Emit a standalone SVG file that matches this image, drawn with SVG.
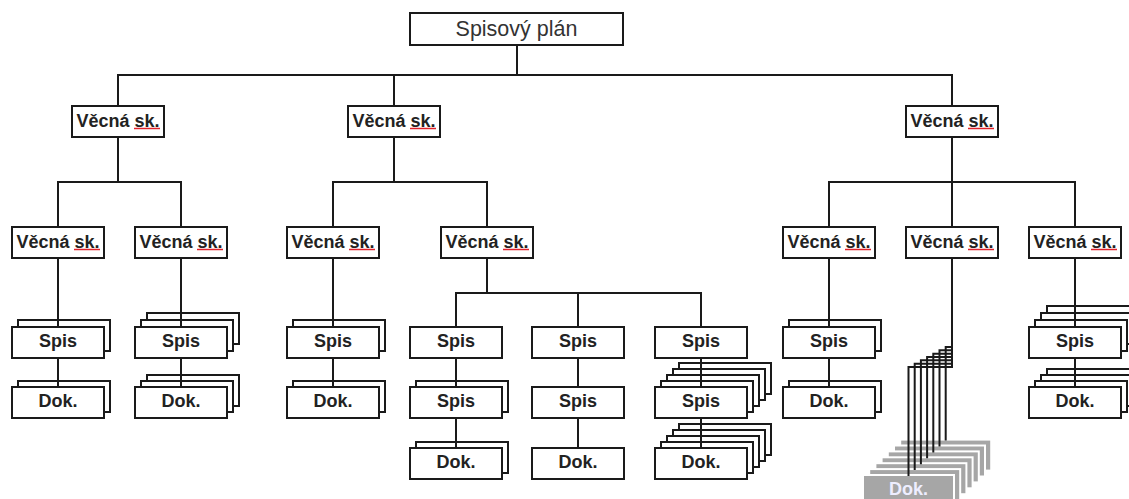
<svg xmlns="http://www.w3.org/2000/svg" width="1129" height="499" viewBox="0 0 1129 499">
<style>
.b{fill:#fff;stroke:#1a1a1a;stroke-width:2}
.g{fill:#a6a6a6;stroke:#fff;stroke-width:2}
.t{font-family:"Liberation Sans",Arial,sans-serif;font-size:18px;font-weight:bold;fill:#222;text-anchor:middle}
.tt{font-family:"Liberation Sans",Arial,sans-serif;font-size:21.5px;fill:#333;text-anchor:middle}
.tg{font-family:"Liberation Sans",Arial,sans-serif;font-size:18px;font-weight:bold;fill:#eeeeff;text-anchor:middle}
.u{stroke:#e0202a;stroke-width:1.5;fill:none}
.c{fill:none;stroke:#1a1a1a;stroke-width:2;stroke-linecap:square}
</style>
<rect width="1129" height="499" fill="#fff"/>

<g id="plan"><rect class="b" x="410" y="13" width="213" height="32"/><text class="tt" x="516.5" y="36">Spisový plán</text></g>

<g id="vs1"><rect class="b" x="72" y="106" width="92" height="31"/><text class="t" x="118" y="127">Věcná sk.</text><path class="u" d="M134 128.5h26"/></g>
<g id="vs2"><rect class="b" x="348" y="106" width="92" height="31"/><text class="t" x="394" y="127">Věcná sk.</text><path class="u" d="M410 128.5h26"/></g>
<g id="vs3"><rect class="b" x="906" y="106" width="92" height="31"/><text class="t" x="952" y="127">Věcná sk.</text><path class="u" d="M968 128.5h26"/></g>

<g id="vs11"><rect class="b" x="12" y="227" width="92" height="31"/><text class="t" x="58" y="248">Věcná sk.</text><path class="u" d="M74 249.5h26"/></g>
<g id="vs12"><rect class="b" x="135" y="227" width="92" height="31"/><text class="t" x="181" y="248">Věcná sk.</text><path class="u" d="M197 249.5h26"/></g>
<g id="vs21"><rect class="b" x="287" y="227" width="92" height="31"/><text class="t" x="333" y="248">Věcná sk.</text><path class="u" d="M349 249.5h26"/></g>
<g id="vs22"><rect class="b" x="441" y="227" width="92" height="31"/><text class="t" x="487" y="248">Věcná sk.</text><path class="u" d="M503 249.5h26"/></g>
<g id="vs31"><rect class="b" x="783" y="227" width="92" height="31"/><text class="t" x="829" y="248">Věcná sk.</text><path class="u" d="M845 249.5h26"/></g>
<g id="vs32"><rect class="b" x="906" y="227" width="92" height="31"/><text class="t" x="952" y="248">Věcná sk.</text><path class="u" d="M968 249.5h26"/></g>
<g id="vs33"><rect class="b" x="1029" y="227" width="92" height="31"/><text class="t" x="1075" y="248">Věcná sk.</text><path class="u" d="M1091 249.5h26"/></g>

<g id="spis11"><rect class="b" x="18" y="320" width="92" height="31"/><rect class="b" x="12" y="327" width="92" height="31"/><text class="t" x="58" y="347">Spis</text></g>
<g id="dok11"><rect class="b" x="18" y="381" width="92" height="31"/><rect class="b" x="12" y="387" width="92" height="31"/><text class="t" x="58" y="407">Dok.</text></g>

<g id="spis12"><rect class="b" x="147" y="313" width="92" height="31"/><rect class="b" x="141" y="320" width="92" height="31"/><rect class="b" x="135" y="327" width="92" height="31"/><text class="t" x="181" y="347">Spis</text></g>
<g id="dok12"><rect class="b" x="147" y="375" width="92" height="31"/><rect class="b" x="141" y="381" width="92" height="31"/><rect class="b" x="135" y="387" width="92" height="31"/><text class="t" x="181" y="407">Dok.</text></g>

<g id="spis21"><rect class="b" x="293" y="320" width="92" height="31"/><rect class="b" x="287" y="327" width="92" height="31"/><text class="t" x="333" y="347">Spis</text></g>
<g id="dok21"><rect class="b" x="293" y="381" width="92" height="31"/><rect class="b" x="287" y="387" width="92" height="31"/><text class="t" x="333" y="407">Dok.</text></g>

<g id="spis221"><rect class="b" x="410" y="327" width="92" height="31"/><text class="t" x="456" y="347">Spis</text></g>
<g id="spis222"><rect class="b" x="416" y="381" width="92" height="31"/><rect class="b" x="410" y="387" width="92" height="31"/><text class="t" x="456" y="407">Spis</text></g>
<g id="dok22a"><rect class="b" x="416" y="442" width="92" height="31"/><rect class="b" x="410" y="448" width="92" height="31"/><text class="t" x="456" y="468">Dok.</text></g>

<g id="spis223"><rect class="b" x="532" y="327" width="92" height="31"/><text class="t" x="578" y="347">Spis</text></g>
<g id="spis224"><rect class="b" x="532" y="387" width="92" height="31"/><text class="t" x="578" y="407">Spis</text></g>
<g id="dok22b"><rect class="b" x="532" y="448" width="92" height="31"/><text class="t" x="578" y="468">Dok.</text></g>

<g id="spis225"><rect class="b" x="655" y="327" width="92" height="31"/><text class="t" x="701" y="347">Spis</text></g>
<g id="spis226"><rect class="b" x="679" y="363" width="92" height="31"/><rect class="b" x="673" y="369" width="92" height="31"/><rect class="b" x="667" y="375" width="92" height="31"/><rect class="b" x="661" y="381" width="92" height="31"/><rect class="b" x="655" y="387" width="92" height="31"/><text class="t" x="701" y="407">Spis</text></g>
<g id="dok22c"><rect class="b" x="679" y="424" width="92" height="31"/><rect class="b" x="673" y="430" width="92" height="31"/><rect class="b" x="667" y="436" width="92" height="31"/><rect class="b" x="661" y="442" width="92" height="31"/><rect class="b" x="655" y="448" width="92" height="31"/><text class="t" x="701" y="468">Dok.</text></g>

<g id="spis31"><rect class="b" x="789" y="320" width="92" height="31"/><rect class="b" x="783" y="327" width="92" height="31"/><text class="t" x="829" y="347">Spis</text></g>
<g id="dok31"><rect class="b" x="789" y="381" width="92" height="31"/><rect class="b" x="783" y="387" width="92" height="31"/><text class="t" x="829" y="407">Dok.</text></g>

<g id="dok32">
<rect class="g" x="900.2" y="439.6" width="91" height="31"/>
<rect class="g" x="894" y="445.5" width="91" height="31"/>
<rect class="g" x="887.8" y="451.4" width="91" height="31"/>
<rect class="g" x="881.6" y="457.3" width="91" height="31"/>
<rect class="g" x="875.4" y="463.2" width="91" height="31"/>
<rect class="g" x="869.2" y="469.1" width="91" height="31"/>
<rect class="g" x="863" y="475" width="91" height="31"/>
<text class="tg" x="908.5" y="495">Dok.</text>
</g>

<g id="spis33"><rect class="b" x="1047" y="306" width="92" height="31"/><rect class="b" x="1041" y="313" width="92" height="31"/><rect class="b" x="1035" y="320" width="92" height="31"/><rect class="b" x="1029" y="327" width="92" height="31"/><text class="t" x="1075" y="347">Spis</text></g>
<g id="dok33"><rect class="b" x="1047" y="369" width="92" height="31"/><rect class="b" x="1041" y="375" width="92" height="31"/><rect class="b" x="1035" y="381" width="92" height="31"/><rect class="b" x="1029" y="387" width="92" height="31"/><text class="t" x="1075" y="407">Dok.</text></g>

<g id="connectors" class="c">
<path d="M517 45V75M118 75H952M118 75V106M394 75V106M952 75V106"/>
<path d="M118 137V182M58 182H181M58 182V227M181 182V227"/>
<path d="M394 137V182M333 182H487M333 182V227M487 182V227"/>
<path d="M952 137V227M829 182H1075M829 182V227M1075 182V227"/>
<path d="M58 258V327M58 358V387M181 258V327M181 358V387M333 258V327M333 358V387"/>
<path d="M487 258V293M456 293H701M456 293V327M578 293V327M701 293V327"/>
<path d="M456 358V387M456 418V448M578 358V387M578 418V448M701 358V387M701 418V448"/>
<path d="M829 258V327M829 358V387M1075 258V327M1075 358V387"/>
<path d="M952 258V367"/>
<path d="M952 367H908.5V475M952 363.7H914.7V469.1M952 360.3H920.9V463.2M952 357H927.1V457.3M952 353.7H933.3V451.4M952 350.3H939.5V445.5M952 347H945.7V439.6"/>
</g>
</svg>
